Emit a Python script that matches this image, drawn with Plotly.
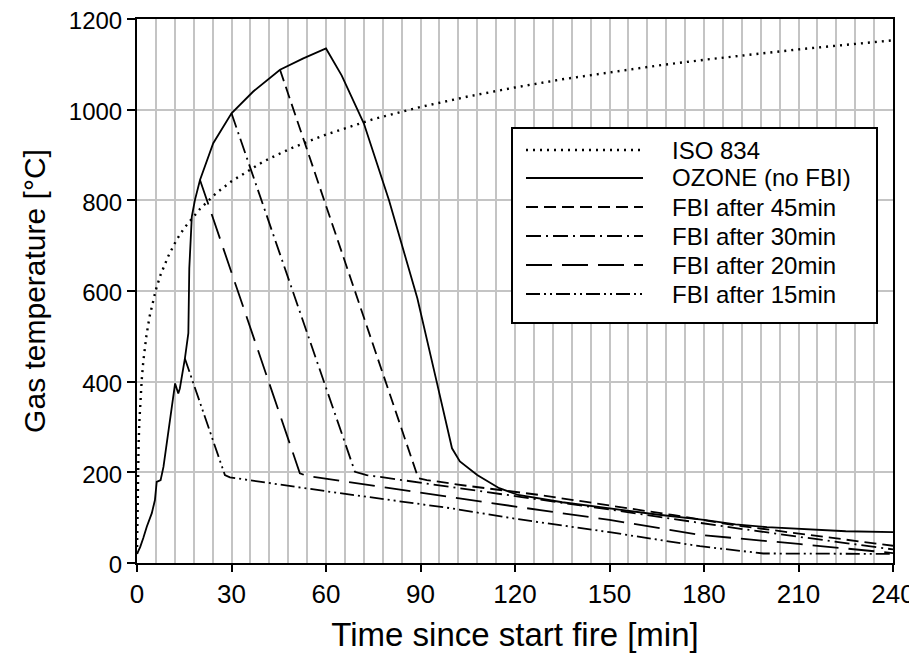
import plotly.graph_objects as go

# ---------------- data ----------------
iso_t = [0, 0.1, 0.25, 0.5, 0.75, 1, 1.5, 2, 3, 4, 5, 6, 7.5, 10, 12.5, 15, 20, 25, 30, 40,
         45, 50, 60, 75, 90, 105, 120, 135, 150, 165, 180, 195, 210, 225, 240]
iso_T = [20, 108, 185, 261, 312, 349, 404, 445, 502, 544, 576, 603, 636, 678, 712, 739, 781,
         815, 842, 885, 902, 918, 945, 979, 1006, 1029, 1049, 1067, 1082, 1097, 1110, 1122,
         1133, 1143, 1153]

oz_t = [0, 1, 2, 3.1, 4.7, 5.7, 6.25, 7.5, 8.4, 10, 12.1, 13.1, 13.6, 15.2, 16.3, 16.6,
        17.4, 18.4, 20, 24.2, 30, 36.9, 45.4, 52.8, 60, 65, 72, 80, 89, 95, 100, 102.5,
        108, 115, 121, 135, 150, 165, 180, 190, 200, 215, 225, 240]
oz_T = [20, 35, 55, 80, 110, 139, 179, 183, 212, 292, 396, 374, 385, 451, 507, 650,
        764, 801, 845, 926, 992, 1040, 1088, 1113, 1135, 1075, 970, 800, 584, 404, 253, 224,
        194, 165, 150, 134, 120, 107, 95, 85, 79, 74, 70, 68]

f45_t = [45.4, 89.3, 92, 105, 127.9, 150, 170, 189, 210, 240]
f45_T = [1088, 187, 183, 170, 150, 127, 106, 84, 65, 38]

f30_t = [30, 69.2, 72.9, 100, 121.6, 150, 178.7, 189, 210, 240]
f30_T = [992, 201, 194, 168, 146, 118, 88, 78, 58, 30]

f20_t = [20, 51.7, 53.9, 80.3, 100, 121.6, 150, 178.7, 210, 240]
f20_T = [845, 198, 192, 165, 144, 123, 95, 62, 42, 22]

f15_t = [15.2, 27.9, 29.5, 61.3, 99.4, 121.6, 150, 178.7, 198.8, 240]
f15_T = [451, 194, 189, 157, 121, 96, 68, 37, 21, 20]

series_names = ["ISO 834", "OZONE (no FBI)", "FBI after 45min", "FBI after 30min",
                "FBI after 20min", "FBI after 15min"]
x_ticks = [0, 30, 60, 90, 120, 150, 180, 210, 240]
y_ticks = [0, 200, 400, 600, 800, 1000, 1200]

# ---------------- styling ----------------
FONT = "Liberation Sans, Arial, sans-serif"
styles = [
    dict(dash="2px,5px", width=2.4),
    dict(dash="solid", width=1.8),
    dict(dash="12px,6px", width=1.8),
    dict(dash="15px,5px,2px,5px", width=1.8),
    dict(dash="26px,10px", width=1.8),
    dict(dash="14px,4px,2px,4px,2px,4px", width=1.8),
]
data = [(iso_t, iso_T), (oz_t, oz_T), (f45_t, f45_T), (f30_t, f30_T),
        (f20_t, f20_T), (f15_t, f15_T)]

fig = go.Figure()
for (xs, ys), name, st in zip(data, series_names, styles):
    fig.add_trace(go.Scatter(x=xs, y=ys, mode="lines", name=name,
                             line=dict(color="black", width=st["width"], dash=st["dash"]),
                             showlegend=False))

# ---------------- layout (page offset of 8px from body margin) ----------------
OFF = 8
W, H = 917 - OFF, 663 - 2 * OFF
L, R, T, B = 137 - OFF, 893 - OFF, 19 - OFF, 563 - OFF   # plot area in figure px


def px(x):
    return (x - OFF - L) / (R - L)


def py(y):
    return (B - (y - OFF)) / (B - T)


shapes = [dict(type="rect", xref="paper", yref="paper",
               x0=px(512), x1=px(877), y0=py(323), y1=py(128),
               line=dict(color="black", width=2), fillcolor="white", layer="above")]
annotations = []
rows = [150, 178, 207, 236, 265, 294]
for name, st, ry in zip(series_names, styles, rows):
    shapes.append(dict(type="line", xref="paper", yref="paper",
                       x0=px(526), x1=px(643), y0=py(ry), y1=py(ry),
                       line=dict(color="black", width=st["width"], dash=st["dash"]),
                       layer="above"))
    annotations.append(dict(xref="paper", yref="paper", x=px(670), y=py(ry),
                            text=name, showarrow=False, xanchor="left", yanchor="middle",
                            font=dict(family=FONT, size=24, color="black")))

grid_col = "#c4c4c4"
fig.update_layout(
    width=W, height=H,
    margin=dict(l=L, r=W - R, t=T, b=H - B, autoexpand=False),
    paper_bgcolor="white", plot_bgcolor="white",
    font=dict(family=FONT, size=26, color="black"),
    shapes=shapes, annotations=annotations,
    showlegend=False,
)
fig.update_xaxes(
    range=[0, 240], tickvals=x_ticks, ticktext=[str(v) for v in x_ticks],
    showgrid=True, gridcolor=grid_col, gridwidth=2,
    minor=dict(dtick=6, tick0=0, showgrid=True, gridcolor=grid_col, gridwidth=2),
    ticks="outside", ticklen=7, tickwidth=2, tickcolor="black",
    showline=True, linecolor="black", linewidth=2, mirror=True,
    zeroline=False, automargin=False, ticklabeloverflow="allow",
    title=dict(text="Time since start fire [min]", font=dict(size=33), standoff=15),
    tickfont=dict(size=26),
)
fig.update_yaxes(
    range=[0, 1200], tickvals=y_ticks, ticktext=[str(v) for v in y_ticks],
    showgrid=True, gridcolor=grid_col, gridwidth=2,
    ticks="outside", ticklen=8, tickwidth=2, tickcolor="black",
    showline=True, linecolor="black", linewidth=2, mirror=True,
    zeroline=False, automargin=False, ticklabeloverflow="allow",
    ticklabelshift=2,
    title=dict(text="Gas temperature [°C]", font=dict(size=30), standoff=14),
    tickfont=dict(size=24),
)

fig.write_html("out.html")
